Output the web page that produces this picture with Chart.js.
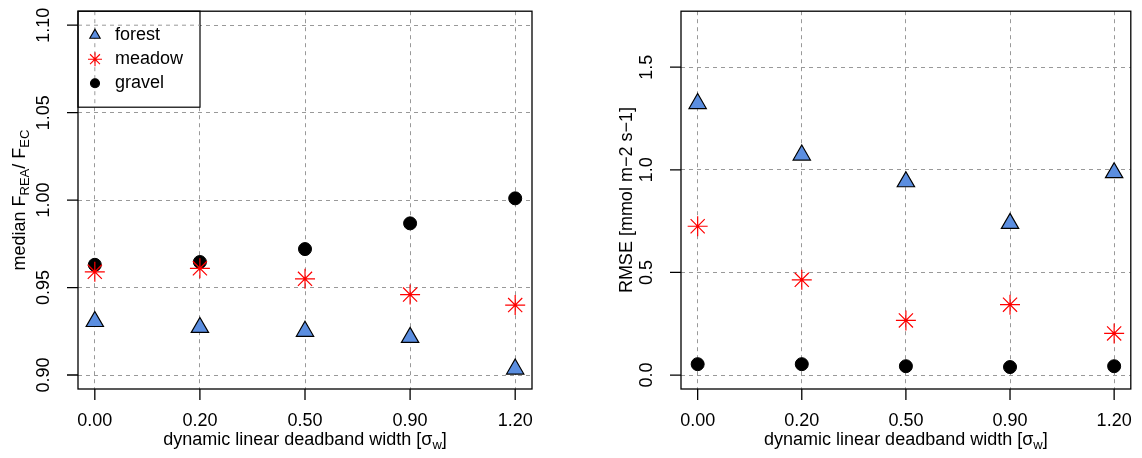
<!DOCTYPE html>
<html>
<head>
<meta charset="utf-8">
<script src="https://cdn.jsdelivr.net/npm/chart.js@4"></script>
<style>
  body { margin: 0; background: #fff; }
  canvas { position: absolute; top: 0; }
</style>
</head>
<body>
<canvas id="left" width="571" height="458" style="left:0;width:571px;height:458px"></canvas>
<canvas id="right" width="571" height="458" style="left:571px;width:571px;height:458px"></canvas>
<script>
const widths = ["0.00", "0.20", "0.50", "0.90", "1.20"];

const forestRatio = [0.9306, 0.9272, 0.925, 0.9215, 0.9034];
const meadowRatio = [0.959, 0.961, 0.955, 0.946, 0.940];
const gravelRatio = [0.963, 0.9646, 0.972, 0.9867, 1.001];

const forestRmse = [1.323, 1.072, 0.942, 0.739, 0.986];
const meadowRmse = [0.725, 0.464, 0.266, 0.343, 0.203];
const gravelRmse = [0.053, 0.053, 0.043, 0.039, 0.043];

const leftTicks = [0.90, 0.95, 1.00, 1.05, 1.10];
const rightTicks = [0.0, 0.5, 1.0, 1.5];

const FONT = '"Liberation Sans", Arial, sans-serif';
const FS = 18;

function pts(arr) { return arr.map((v, i) => ({ x: i, y: v })); }

function sets(f, m, g) {
  return [
    { label: "forest", data: pts(f), pointStyle: "triangle", pointRadius: 10,
      backgroundColor: "#5b8ee0", borderColor: "#000", borderWidth: 1.2 },
    { label: "meadow", data: pts(m), pointStyle: "star", pointRadius: 10,
      borderColor: "#ff0000", backgroundColor: "#ff0000", borderWidth: 1.2 },
    { label: "gravel", data: pts(g), pointStyle: "circle", pointRadius: 6.5,
      backgroundColor: "#000", borderColor: "#000", borderWidth: 1 }
  ];
}

function txt(ctx, s, x, y, size, rot, align) {
  ctx.save();
  ctx.translate(x, y);
  if (rot) ctx.rotate(rot);
  ctx.font = size + "px " + FONT;
  ctx.fillStyle = "#000";
  ctx.textAlign = align || "center";
  ctx.textBaseline = "middle";
  ctx.fillText(s, 0, 0);
  ctx.restore();
}

// draws frame, ticks, labels and titles like R base graphics
function axesPlugin(yTicks, yDigits, yTitle, legend) {
  return {
    id: "rAxes",
    afterDraw(chart) {
      const ctx = chart.ctx, a = chart.chartArea;
      const xs = chart.scales.x, ys = chart.scales.y;
      ctx.save();
      if (legend) legend(ctx, a, chart);
      ctx.strokeStyle = "#000";
      ctx.lineWidth = 1.3;
      ctx.strokeRect(a.left, a.top, a.right - a.left, a.bottom - a.top);
      ctx.beginPath();
      yTicks.forEach(v => {
        const p = ys.getPixelForValue(v);
        ctx.moveTo(a.left - 11, p); ctx.lineTo(a.left, p);
        txt(ctx, v.toFixed(yDigits), a.left - 34, p, FS, -Math.PI / 2);
      });
      widths.forEach((w, i) => {
        const p = xs.getPixelForValue(i);
        ctx.moveTo(p, a.bottom); ctx.lineTo(p, a.bottom + 11);
        txt(ctx, w, p, a.bottom + 32, FS);
      });
      ctx.stroke();
      // x title with subscript
      const cx = (a.left + a.right) / 2, ty = a.bottom + 51;
      const t1 = "dynamic linear deadband width [σ", t3 = "]";
      ctx.font = "13px " + FONT; const w2 = ctx.measureText("w").width;
      ctx.font = FS + "px " + FONT;
      const w1 = ctx.measureText(t1).width, w3 = ctx.measureText(t3).width;
      let x0 = cx - (w1 + w2 + w3) / 2;
      txt(ctx, t1, x0, ty, FS, 0, "left");
      txt(ctx, "w", x0 + w1, ty + 5, 13, 0, "left");
      txt(ctx, t3, x0 + w1 + w2, ty, FS, 0, "left");
      yTitle(ctx, a);
      ctx.restore();
    }
  };
}

function leftTitle(ctx, a) {
  const cy = (a.top + a.bottom) / 2, x = 20;
  ctx.save();
  ctx.translate(x, cy);
  ctx.rotate(-Math.PI / 2);
  const parts = [["median F", FS, 0], ["REA", 13, 5], ["/ F", FS, 0], ["EC", 13, 5]];
  let tot = 0;
  parts.forEach(p => { ctx.font = p[1] + "px " + FONT; tot += ctx.measureText(p[0]).width; });
  let px = -tot / 2;
  parts.forEach(p => {
    txt(ctx, p[0], px, p[2], p[1], 0, "left");
    ctx.font = p[1] + "px " + FONT; px += ctx.measureText(p[0]).width;
  });
  ctx.restore();
}

function rightTitle(ctx, a) {
  txt(ctx, "RMSE [mmol m\u22122 s\u22121]", 56, (a.top + a.bottom) / 2, FS, -Math.PI / 2);
}

function drawLegend(ctx, a, chart) {
  ctx.fillStyle = "#fff";
  ctx.fillRect(a.left, a.top, 122, 96);
  ctx.lineWidth = 1.2;
  ctx.strokeStyle = "#000";
  ctx.strokeRect(a.left, a.top, 122, 96);
  // R draws the grid after the legend, so the vertical dashed line shows through
  ctx.save();
  ctx.strokeStyle = "#999";
  ctx.lineWidth = 1;
  ctx.setLineDash([4, 4]);
  const gx = chart.scales.x.getPixelForValue(0);
  ctx.beginPath(); ctx.moveTo(gx, a.top); ctx.lineTo(gx, a.top + 96);
  const gy = chart.scales.y.getPixelForValue(1.10);
  ctx.moveTo(a.left, gy); ctx.lineTo(a.left + 122, gy);
  ctx.stroke();
  ctx.restore();
  const names = ["forest", "meadow", "gravel"];
  const sizes = [6, 7, 4.5];
  names.forEach((n, i) => {
    const y = a.top + 24 + i * 24;
    const ds = chart.data.datasets[i];
    ctx.save();
    ctx.fillStyle = ds.backgroundColor;
    ctx.strokeStyle = ds.borderColor;
    ctx.lineWidth = 1.1;
    Chart.helpers.drawPoint(ctx, { pointStyle: ds.pointStyle, radius: sizes[i], rotation: 0, borderWidth: 1.1 }, 95, y);
    ctx.restore();
    txt(ctx, n, 115, y, FS, 0, "left");
  });
}

function makeChart(id, datasets, yMin, yMax, yTicks, pad, plugin) {
  const grid = { color: "#999", lineWidth: 1, drawTicks: false };
  const border = { display: false, dash: [4, 4] };
  return new Chart(document.getElementById(id), {
    type: "scatter",
    data: { datasets: datasets },
    options: {
      responsive: false,
      animation: false,
      layout: { padding: pad },
      plugins: { legend: { display: false }, tooltip: { enabled: false } },
      scales: {
        x: {
          type: "linear", min: -0.16, max: 4.16,
          afterBuildTicks: s => { s.ticks = widths.map((w, i) => ({ value: i })); },
          afterFit: s => { s.height = 0; },
          ticks: { display: false },
          border: border,
          grid: grid
        },
        y: {
          min: yMin, max: yMax,
          afterBuildTicks: s => { s.ticks = yTicks.map(v => ({ value: v })); },
          afterFit: s => { s.width = 0; },
          ticks: { display: false },
          border: border,
          grid: grid
        }
      }
    },
    plugins: [plugin]
  });
}

makeChart("left", sets(forestRatio, meadowRatio, gravelRatio),
  0.892, 1.108, leftTicks, { left: 78, top: 8, right: 39, bottom: 69 },
  axesPlugin(leftTicks, 2, leftTitle, drawLegend));

makeChart("right", sets(forestRmse, meadowRmse, gravelRmse),
  -0.068, 1.773, rightTicks, { left: 110, top: 8, right: 7, bottom: 69 },
  axesPlugin(rightTicks, 1, rightTitle, null));
</script>
</body>
</html>
